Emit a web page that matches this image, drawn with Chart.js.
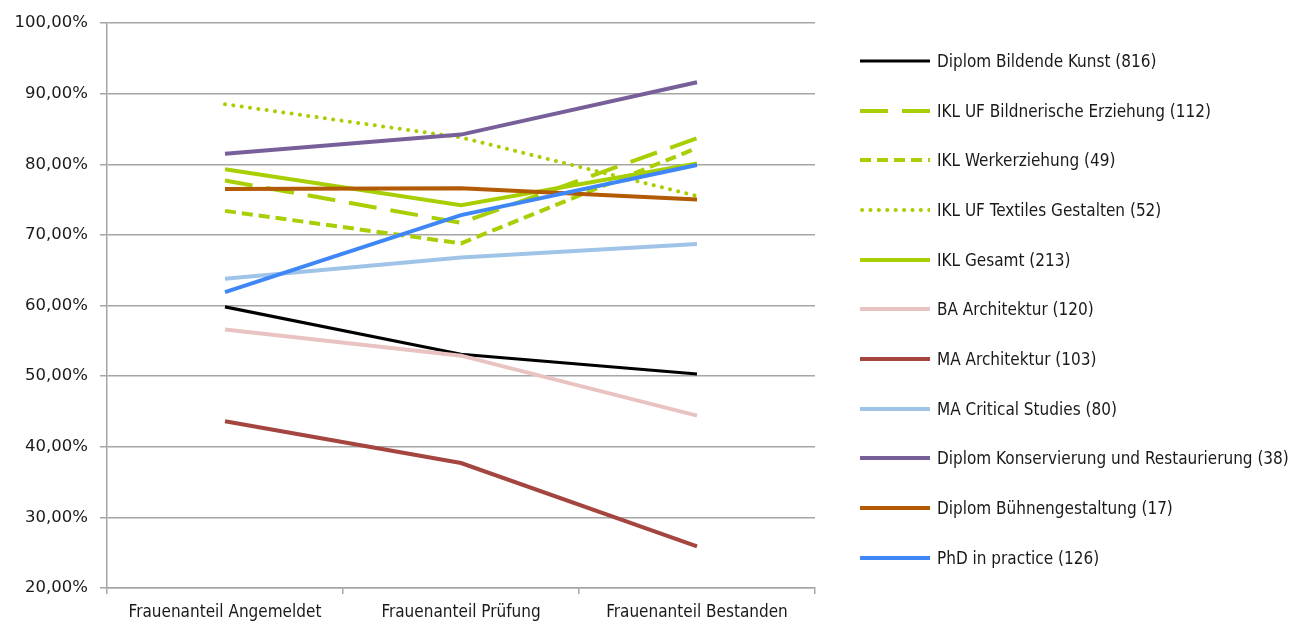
<!DOCTYPE html>
<html>
<head>
  <meta charset="utf-8">
  <title>Frauenanteil</title>
  <script src="https://cdn.jsdelivr.net/npm/chart.js"></script>
  <style>
    body { margin: 0; background: #fff; }
    #wrap { position: relative; width: 1295px; height: 626px; }
    #legend { position: absolute; left: 860px; top: 36px; font-family: "Liberation Sans Narrow", "DejaVu Sans Condensed", sans-serif; font-size: 17px; color: #1a1a1a; }
    .row { display: flex; align-items: center; height: 49.7px; white-space: nowrap; }
    .row svg { margin-right: 7px; }
  </style>
</head>
<body>
  <div id="wrap">
    <canvas id="chart" width="1295" height="626"></canvas>
    <div id="legend"></div>
  </div>

  <script>
    // Daten
    var categories = ["Frauenanteil Angemeldet", "Frauenanteil Prüfung", "Frauenanteil Bestanden"];
    var yTicks = [20, 30, 40, 50, 60, 70, 80, 90, 100];

    var seriesNames = [
      "Diplom Bildende Kunst (816)",
      "IKL UF Bildnerische Erziehung (112)",
      "IKL Werkerziehung (49)",
      "IKL UF Textiles Gestalten (52)",
      "IKL Gesamt (213)",
      "BA Architektur (120)",
      "MA Architektur (103)",
      "MA Critical Studies (80)",
      "Diplom Konservierung und Restaurierung (38)",
      "Diplom Bühnengestaltung (17)",
      "PhD in practice (126)"
    ];

    var bildendeKunst = [59.8, 53.1, 50.3];
    var bildnerischeErziehung = [77.7, 71.7, 83.7];
    var werkerziehung = [73.4, 68.8, 82.3];
    var textilesGestalten = [88.5, 83.8, 75.5];
    var iklGesamt = [79.3, 74.2, 80.1];
    var baArchitektur = [56.6, 52.9, 44.4];
    var maArchitektur = [43.6, 37.7, 25.9];
    var maCriticalStudies = [63.8, 66.8, 68.7];
    var konservierung = [81.5, 84.2, 91.6];
    var buehnengestaltung = [76.5, 76.6, 75.0];
    var phdInPractice = [61.9, 72.8, 79.9];

    var allValues = [bildendeKunst, bildnerischeErziehung, werkerziehung, textilesGestalten, iklGesamt,
      baArchitektur, maArchitektur, maCriticalStudies, konservierung, buehnengestaltung, phdInPractice];

    var colors = ["#000000", "#a8cf04", "#a8cf04", "#a8cf04", "#a8cf04", "#e8c3c2",
      "#a4463f", "#9fc4e8", "#77609a", "#b25a04", "#3f87f6"];
    var dashes = [[], [28, 14], [11, 6], [0.1, 8.3], [], [], [], [], [], [], []];
    var widths = [3.2, 4, 4, 4, 4, 4, 4, 4, 4, 4, 4];

    var datasets = [];
    for (var i = 0; i < seriesNames.length; i++) {
      datasets.push({
        label: seriesNames[i],
        data: allValues[i],
        borderColor: colors[i],
        backgroundColor: colors[i],
        borderWidth: widths[i],
        borderDash: dashes[i],
        borderCapStyle: i === 3 ? "round" : "butt",
        pointRadius: 0,
        pointHoverRadius: 0,
        tension: 0,
        order: seriesNames.length - i
      });
    }

    var gridColor = "#a6a6a6";

    var chart = new Chart("chart", {
      type: "line",
      data: { labels: categories, datasets: datasets },
      options: {
        responsive: false,
        animation: false,
        layout: { padding: { left: 0, right: 480, top: 23, bottom: 0 } },
        plugins: {
          legend: { display: false },
          tooltip: { enabled: false }
        },
        scales: {
          x: {
            offset: true,
            grid: { offset: true, drawOnChartArea: false, drawTicks: true, tickLength: 6, color: gridColor, lineWidth: 1.5 },
            border: { color: gridColor, width: 1.5 },
            ticks: {
              color: "#1a1a1a",
              padding: 8,
              maxRotation: 0,
              font: { family: "'Liberation Sans Narrow', 'DejaVu Sans Condensed', sans-serif", size: 17 }
            },
            afterFit: function (scale) { scale.height = 38; }
          },
          y: {
            min: 20,
            max: 100,
            afterBuildTicks: function (scale) {
              scale.ticks = yTicks.map(function (v) { return { value: v }; });
            },
            grid: { color: gridColor, lineWidth: 1.5, tickLength: 7 },
            border: { color: gridColor, width: 1.5 },
            ticks: {
              color: "#1a1a1a",
              padding: 12,
              font: { family: "'DejaVu Sans', sans-serif", size: 16.5 },
              callback: function (v) { return v.toFixed(2).replace(".", ",") + "%"; }
            },
            afterFit: function (scale) { scale.width = 107; }
          }
        }
      }
    });

    // Legende
    var legend = document.getElementById("legend");
    for (var j = 0; j < seriesNames.length; j++) {
      var row = document.createElement("div");
      row.className = "row";
      var dash = dashes[j].length ? dashes[j].join(" ") : "none";
      var cap = j === 3 ? "round" : "butt";
      row.innerHTML = '<svg width="70" height="8"><line x1="' + (j === 3 ? 2 : 0) + '" y1="4" x2="70" y2="4" stroke="' + colors[j] +
        '" stroke-width="' + widths[j] + '" stroke-dasharray="' + dash + '" stroke-linecap="' + cap + '"/></svg>' +
        '<span>' + seriesNames[j] + '</span>';
      legend.appendChild(row);
    }
  </script>
</body>
</html>
